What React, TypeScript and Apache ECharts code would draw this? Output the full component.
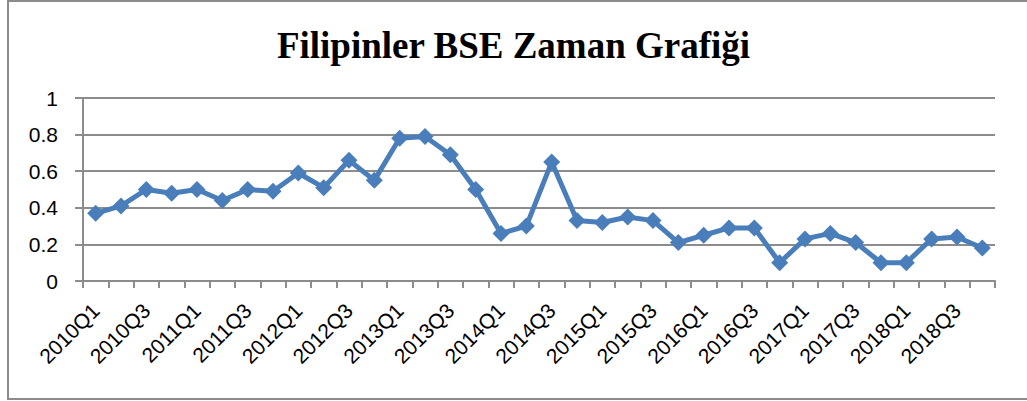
import React, { useEffect, useRef } from "react";
import * as echarts from "echarts";

const years = [2010, 2011, 2012, 2013, 2014, 2015, 2016, 2017, 2018];
const quarters = ["Q1", "Q2", "Q3", "Q4"];
const categories: string[] = [];
years.forEach((y) => quarters.forEach((q) => categories.push(`${y}${q}`)));

const bseValues = [
  0.37, 0.41, 0.5, 0.48, 0.5, 0.44, 0.5, 0.49,
  0.59, 0.51, 0.66, 0.55, 0.78, 0.79, 0.69, 0.5,
  0.26, 0.3, 0.65, 0.33, 0.32, 0.35, 0.33, 0.21,
  0.25, 0.29, 0.29, 0.1, 0.23, 0.26, 0.21, 0.1,
  0.1, 0.23, 0.24, 0.18,
];

const titleText = "Filipinler BSE Zaman Grafiği";

export default function App() {
  const ref = useRef<HTMLDivElement>(null);
  useEffect(() => {
    if (!ref.current) return;
    const chart = echarts.init(ref.current, undefined, { renderer: "svg" });
    chart.setOption({
      animation: false,
      backgroundColor: "#ffffff",
      title: {
        text: titleText,
        left: "center",
        top: 22,
        textStyle: {
          fontFamily: "Liberation Serif, Times New Roman, serif",
          fontWeight: "bold",
          fontSize: 37,
          color: "#000",
        },
      },
      graphic: [
        {
          type: "rect",
          shape: { x: 8, y: 1, width: 1030, height: 398 },
          style: { fill: "none", stroke: "#8c8c8c", lineWidth: 2 },
          silent: true,
        },
      ],
      grid: { left: 83, right: 32, top: 98, bottom: 120 },
      xAxis: {
        type: "category",
        data: categories,
        boundaryGap: true,
        axisLine: { lineStyle: { color: "#8c8c8c", width: 2 } },
        axisTick: { show: true, interval: 0, length: 7, lineStyle: { color: "#8c8c8c", width: 2 } },
        axisLabel: {
          interval: 1,
          rotate: 45,
          margin: 26,
          fontFamily: "Liberation Sans, Arial, sans-serif",
          fontSize: 21,
          color: "#000",
        },
      },
      yAxis: {
        type: "value",
        min: 0,
        max: 1,
        interval: 0.2,
        axisLine: { show: true, lineStyle: { color: "#8c8c8c", width: 2 } },
        axisTick: { show: true, length: 8, lineStyle: { color: "#8c8c8c", width: 2 } },
        splitLine: { lineStyle: { color: "#8c8c8c", width: 2 } },
        axisLabel: {
          margin: 25,
          fontFamily: "Liberation Sans, Arial, sans-serif",
          fontSize: 21,
          color: "#000",
        },
      },
      series: [
        {
          type: "line",
          data: bseValues,
          symbol: "diamond",
          symbolSize: 17,
          showAllSymbol: true,
          itemStyle: { color: "#4a7ebb" },
          lineStyle: { color: "#4a7ebb", width: 5 },
        },
      ],
    });
    return () => chart.dispose();
  }, []);
  return (
    <div
      ref={ref}
      style={{ position: "fixed", left: 0, top: 0, width: 1027, height: 401 }}
    />
  );
}
